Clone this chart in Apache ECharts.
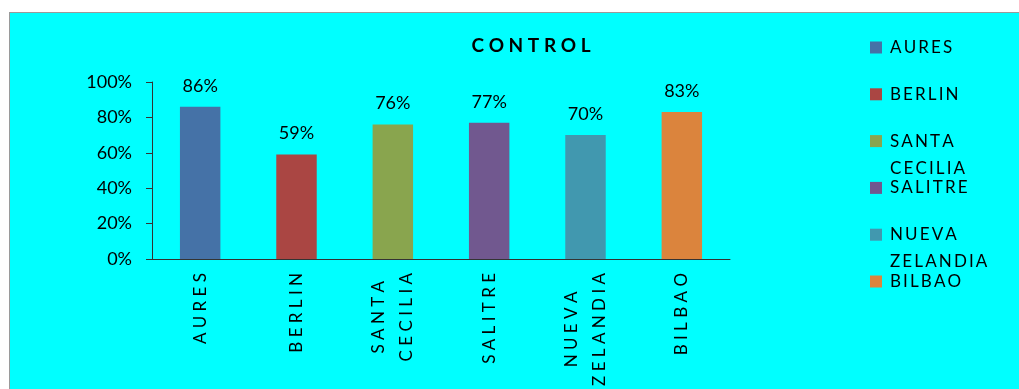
<!DOCTYPE html>
<html>
<head>
<meta charset="utf-8">
<title>CONTROL</title>
<script src="https://cdn.jsdelivr.net/npm/echarts@6/dist/echarts.min.js"></script>
<style>
    html, body { margin: 0; padding: 0; background: #ffffff; overflow: hidden; }
    #main {
        position: absolute;
        left: 9px;
        top: 12px;
        width: 1010px;
        height: 377px;
        border-left: 1px solid #9a9a9a;
        border-top: 1px solid #9a9a9a;
    }
</style>
</head>
<body>
<div id="main"></div>
<script>
// datos del grafico
var chartTitle = 'CONTROL';
var sedes = ['AURES', 'BERLIN', 'SANTA CECILIA', 'SALITRE', 'NUEVA ZELANDIA', 'BILBAO'];
var porcentajes = [0.86, 0.59, 0.76, 0.77, 0.70, 0.83];
var colores = ['#4572A7', '#AA4643', '#89A54E', '#71588F', '#4198AF', '#DB843D'];
var yTicks = [0, 0.2, 0.4, 0.6, 0.8, 1];

var FONT = 'Lato, "Open Sans", sans-serif';

// separa letras como en el original (sep = espacio entre letras)
function espaciar(txt, sep) {
    return txt.split(' ').map(function (w) {
        return w.split('').join(sep || ' ');
    }).join('\n');
}

// una serie por sede, apiladas para que queden centradas
var series = sedes.map(function (name, i) {
    var data = sedes.map(function (s, j) {
        return j === i ? porcentajes[i] : '-';
    });
    return {
        name: name,
        type: 'bar',
        stack: 'total',
        barWidth: '42%',
        itemStyle: { color: colores[i] },
        label: {
            show: true,
            position: 'top',
            distance: 12,
            fontFamily: FONT,
            fontSize: 18,
            color: '#000',
            formatter: function (p) {
                return Math.round(p.value * 100) + '%';
            }
        },
        data: data
    };
});

// leyenda: un bloque por sede, el icono alineado con la primera linea
var LH = 27;
var legends = sedes.map(function (name, i) {
    var lines = name.split(' ').length;
    var center = 34.5 + i * 46.8;
    return {
        orient: 'vertical',
        left: 860,
        top: center - (2 * lines - 1) * LH / 2,
        padding: 0,
        itemWidth: 12,
        itemHeight: 12,
        icon: 'rect',
        data: [name],
        formatter: function (n) {
            var t = espaciar(n, '\u2009');
            // linea vacia arriba para que la primera quede junto al icono
            return lines > 1 ? '\n' + t : t;
        },
        textStyle: {
            fontFamily: FONT,
            fontSize: 17,
            color: '#000',
            lineHeight: LH,
            padding: [0, 0, 0, 3]
        }
    };
});

var chart = echarts.init(document.getElementById('main'));
chart.setOption({
    backgroundColor: '#00FFFF',
    animation: false,
    title: {
        text: chartTitle.split('').join(' '),
        left: 516,
        top: 18,
        textAlign: 'center',
        textStyle: {
            fontFamily: FONT,
            fontSize: 19,
            fontWeight: 'bold',
            color: '#000'
        }
    },
    legend: legends,
    grid: {
        left: 142,
        top: 69,
        right: 290,
        bottom: 131,
        outerBoundsMode: 'none'
    },
    xAxis: {
        type: 'category',
        data: sedes,
        axisLine: { lineStyle: { color: '#333', width: 1 } },
        axisTick: { length: 7, lineStyle: { color: '#333' } },
        axisLabel: {
            rotate: 90,
            margin: 14,
            color: '#000',
            interval: 0,
            // cada linea centrada dentro del bloque, como en Excel
            formatter: function (v) {
                return espaciar(v, ' ').split('\n').map(function (l) {
                    return '{c|' + l + '}';
                }).join('\n');
            },
            rich: {
                c: {
                    align: 'center',
                    fontFamily: FONT,
                    fontSize: 17,
                    lineHeight: 28,
                    color: '#000'
                }
            }
        }
    },
    yAxis: {
        type: 'value',
        min: yTicks[0],
        max: yTicks[yTicks.length - 1],
        interval: 0.2,
        axisLine: { show: true, lineStyle: { color: '#333', width: 1 } },
        axisTick: { show: true, length: 6, lineStyle: { color: '#333' } },
        splitLine: { show: false },
        axisLabel: {
            margin: 20,
            fontFamily: FONT,
            fontSize: 18,
            color: '#000',
            formatter: function (v) { return Math.round(v * 100) + '%'; }
        }
    },
    series: series
});

window.onresize = function () {
    chart.resize();
};
</script>
</body>
</html>
